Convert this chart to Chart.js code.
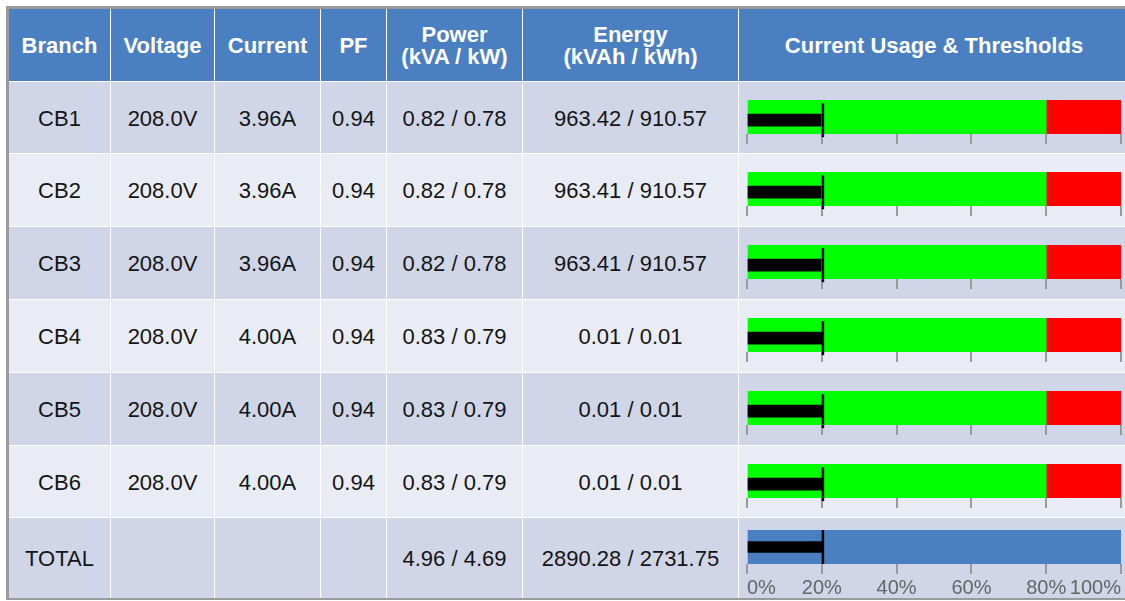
<!DOCTYPE html>
<html>
<head>
<meta charset="utf-8">
<script src="https://cdn.jsdelivr.net/npm/chart.js@4.4.1/dist/chart.umd.min.js"></script>
<style>
html, body { margin: 0; padding: 0; background: #fff; width: 1125px; height: 601px; overflow: hidden; }
#frame {
    position: absolute; left: 6px; top: 6px;
    border-top: 3px solid #9a9a9a; border-left: 3px solid #9a9a9a; border-bottom: 2px solid #9a9a9a;
    background: #fff;
}
#grid {
    display: grid;
    grid-template-columns: 101px 103px 105px 65px 135px 215px 390px;
    grid-template-rows: 72px 71px 72px 72px 72px 72px 71px 80px;
    gap: 1px;
    font-family: "Liberation Sans", Arial, sans-serif;
    font-size: 22px;
}
.cell { display: flex; align-items: center; justify-content: center; text-align: center; color: #151515; padding-top: 2px; box-sizing: border-box; }
.head { background: #4a80c2; color: #fff; font-weight: bold; line-height: 22px; }
.odd { background: #d0d6e7; }
.even { background: #e9ecf4; }
.usage { position: relative; padding: 0; }
.usage canvas { position: absolute; left: 0; top: 0; }
</style>
</head>
<body>
<div id="frame"><div id="grid"></div></div>
<script>
// Table data
const headers = ['Branch', 'Voltage', 'Current', 'PF', 'Power<br>(kVA / kW)', 'Energy<br>(kVAh / kWh)', 'Current Usage &amp; Thresholds'];
const branches = ['CB1', 'CB2', 'CB3', 'CB4', 'CB5', 'CB6'];
const voltage = [208.0, 208.0, 208.0, 208.0, 208.0, 208.0];
const current = [3.96, 3.96, 3.96, 4.00, 4.00, 4.00];
const powerFactor = [0.94, 0.94, 0.94, 0.94, 0.94, 0.94];
const powerKVA = [0.82, 0.82, 0.82, 0.83, 0.83, 0.83];
const powerKW = [0.78, 0.78, 0.78, 0.79, 0.79, 0.79];
const energyKVAh = [963.42, 963.41, 963.41, 0.01, 0.01, 0.01];
const energyKWh = [910.57, 910.57, 910.57, 0.01, 0.01, 0.01];
const totalPower = [4.96, 4.69];
const totalEnergy = [2890.28, 2731.75];

// Bullet chart data (percent of breaker rating)
const usagePct = [19.8, 19.8, 19.8, 20.0, 20.0, 20.0];
const limitPct = [20.3, 20.3, 20.3, 20.3, 20.3, 20.3];
const totalUsagePct = 20.0;
const totalLimitPct = 20.3;
const okRange = [0, 80];
const alarmRange = [80, 100];
const axisTicks = [0, 20, 40, 60, 80, 100];

const rowHeights = [71, 72, 72, 72, 72, 71];
const TOTAL_HEIGHT = 80;
const USAGE_WIDTH = 390;

const gridEl = document.getElementById('grid');

function addCell(html, cls) {
    const el = document.createElement('div');
    el.className = 'cell ' + cls;
    el.innerHTML = html;
    gridEl.appendChild(el);
    return el;
}

function addUsageCell(cls, height) {
    const el = addCell('', cls + ' usage');
    const canvas = document.createElement('canvas');
    canvas.width = USAGE_WIDTH;
    canvas.height = height;
    el.appendChild(canvas);
    return canvas;
}

// Builds one bullet chart; ranges are drawn as floating bars, usage as a thin bar, limit as a line marker
function makeBullet(canvas, ranges, usage, limit, opts) {
    const datasets = ranges.map(r => ({
        type: 'bar',
        data: [{ x: r.span, y: 0 }],
        backgroundColor: r.color,
        barThickness: 34,
        grouped: false,
        order: 3
    }));
    datasets.push({
        type: 'bar',
        data: [{ x: [0, usage], y: opts.measureY }],
        backgroundColor: '#000',
        barThickness: opts.usageThickness,
        grouped: false,
        clip: false,
        order: 2
    });
    datasets.push({
        type: 'scatter',
        data: [{ x: limit, y: opts.measureY }],
        pointStyle: 'line',
        rotation: 90,
        pointRadius: 17,
        borderWidth: 2.5,
        borderColor: '#000',
        clip: false,
        order: 1
    });

    return new Chart(canvas.getContext('2d'), {
        type: 'bar',
        data: { datasets },
        options: {
            indexAxis: 'y',
            responsive: false,
            animation: false,
            events: [],
            devicePixelRatio: 1,
            layout: { autoPadding: false, padding: { left: 8, right: 8, top: opts.top, bottom: opts.bottom } },
            plugins: { legend: { display: false }, tooltip: { enabled: false } },
            scales: {
                x: {
                    type: 'linear',
                    min: 0,
                    max: 100,
                    afterBuildTicks: scale => { scale.ticks = axisTicks.map(v => ({ value: v })); },
                    border: { display: false },
                    grid: { drawOnChartArea: false, drawTicks: true, tickLength: 10, color: '#9a9a9a', lineWidth: 2 },
                    ticks: {
                        display: opts.labels,
                        align: 'inner',
                        padding: 4,
                        color: '#666',
                        font: { family: '"Liberation Sans", Arial, sans-serif', size: 20, lineHeight: 1 },
                        callback: v => v + '%'
                    }
                },
                y: { type: 'linear', min: -0.5, max: 0.5, reverse: true, display: false }
            }
        }
    });
}

// Header
headers.forEach(h => addCell(h, 'head'));

// Branch rows
branches.forEach((b, i) => {
    const cls = i % 2 === 0 ? 'odd' : 'even';
    addCell(b, cls);
    addCell(voltage[i].toFixed(1) + 'V', cls);
    addCell(current[i].toFixed(2) + 'A', cls);
    addCell(powerFactor[i].toFixed(2), cls);
    addCell(powerKVA[i].toFixed(2) + ' / ' + powerKW[i].toFixed(2), cls);
    addCell(energyKVAh[i].toFixed(2) + ' / ' + energyKWh[i].toFixed(2), cls);
    const h = rowHeights[i];
    const canvas = addUsageCell(cls, h);
    makeBullet(canvas,
        [{ span: okRange, color: '#00ff00' }, { span: alarmRange, color: '#ff0000' }],
        usagePct[i], limitPct[i],
        { top: 18, bottom: h - 18 - 34 - 10, measureY: 0.185, usageThickness: 12, labels: false });
});

// Total row
addCell('TOTAL', 'odd');
addCell('', 'odd');
addCell('', 'odd');
addCell('', 'odd');
addCell(totalPower[0].toFixed(2) + ' / ' + totalPower[1].toFixed(2), 'odd');
addCell(totalEnergy[0].toFixed(2) + ' / ' + totalEnergy[1].toFixed(2), 'odd');
const totalCanvas = addUsageCell('odd', TOTAL_HEIGHT);
makeBullet(totalCanvas,
    [{ span: [0, 100], color: '#4a80c2' }],
    totalUsagePct, totalLimitPct,
    { top: 12, bottom: TOTAL_HEIGHT - 12 - 34 - 10 - 20 - 4, measureY: 0, usageThickness: 11, labels: true });
</script>
</body>
</html>
